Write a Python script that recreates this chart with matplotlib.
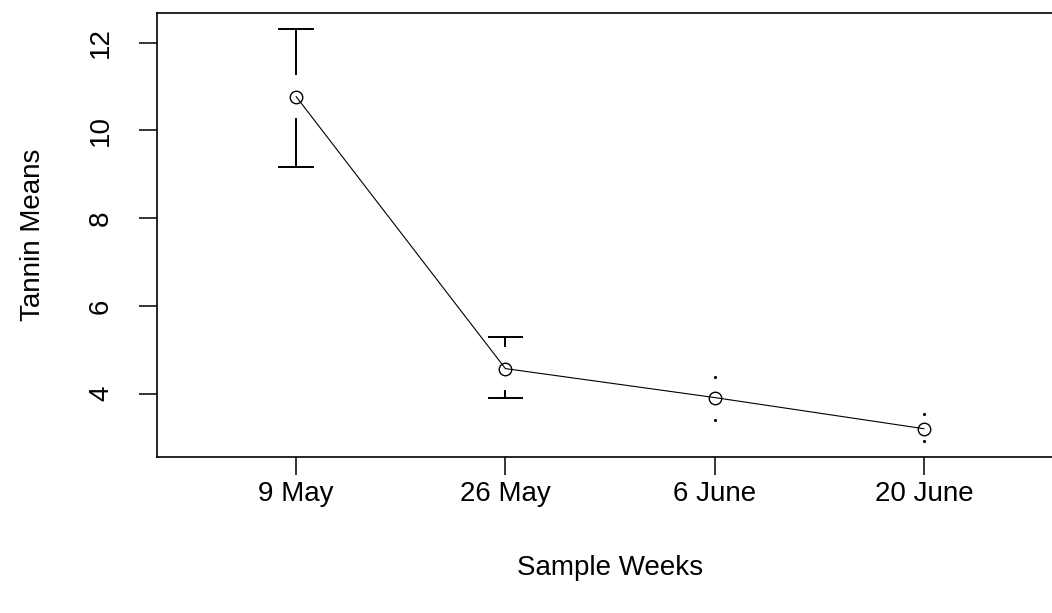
import matplotlib
matplotlib.use('agg')
from matplotlib import pyplot as plt
import numpy as np

plt.rcParams['font.family'] = ['Liberation Sans', 'DejaVu Sans']

weeks = ['9 May', '26 May', '6 June', '20 June']
means = [10.77, 4.57, 3.91, 3.20]
upper = [12.30, 5.28, 4.37, 3.54]
lower = [9.17, 3.89, 3.40, 2.93]

GAP = 0.52      # gap left around each point (data units)
CAP = 0.08      # half width of the error bar caps (x units)

fig = plt.figure(figsize=(10.52, 6.13), dpi=100)
ax = fig.add_axes([157 / 1052, 1 - 457 / 613, (1063 - 157) / 1052, (457 - 13) / 613])

x = np.arange(1, len(weeks) + 1)
ax.plot(x, means, color='black', lw=0.8, marker='o', ms=9, mfc='none', mec='black', mew=1.0, zorder=3)

for xi, m, hi, lo in zip(x, means, upper, lower):
    for end, sign in ((hi, 1), (lo, -1)):
        if abs(end - m) > GAP:
            ax.plot([xi, xi], [m + sign * GAP, end], color='black', lw=1.4)
            ax.plot([xi - CAP, xi + CAP], [end, end], color='black', lw=1.4)
        else:
            # bar shorter than the gap: R leaves just a dot at the end
            ax.plot([xi], [end], marker='.', ms=2.5, color='black', lw=0)

ax.set_xlim(0.335, 4.665)
ax.set_ylim(2.555, 12.675)
ax.set_xticks(x)
ax.set_xticklabels(weeks)
ax.set_yticks([4, 6, 8, 10, 12])
ax.set_yticklabels(['4', '6', '8', '10', '12'], rotation=90, va='center')

ax.tick_params(direction='out', length=13, width=1.1, labelsize=20, colors='black')
ax.tick_params(axis='x', pad=4)
ax.tick_params(axis='y', pad=18)
for s in ax.spines.values():
    s.set_linewidth(1.2)

ax.set_xlabel('Sample Weeks', fontsize=20, labelpad=35)
ax.set_ylabel('Tannin Means', fontsize=20, labelpad=30)

fig.savefig('out.png', dpi=100)
plt.close(fig)
